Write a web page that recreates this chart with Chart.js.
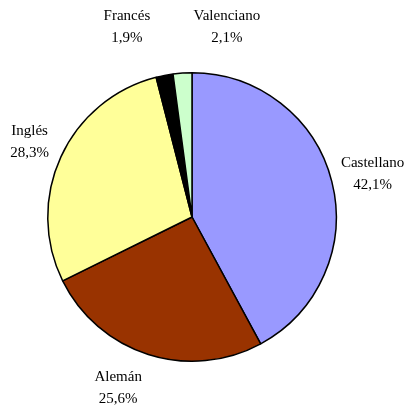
<!DOCTYPE html>
<html>
<head>
<meta charset="utf-8">
<script src="https://cdn.jsdelivr.net/npm/chart.js@4/dist/chart.umd.min.js"></script>
<style>
  html, body { margin: 0; padding: 0; background: #fff; }
  #wrap { width: 412px; height: 405px; position: relative; }
</style>
</head>
<body>
<div id="wrap"><canvas id="c" width="412" height="405"></canvas></div>
<script>
// Idiomas: reparto en porcentaje
const categories = ['Castellano', 'Alemán', 'Inglés', 'Francés', 'Valenciano'];
const shares = [42.1, 25.6, 28.3, 1.9, 2.1];
const sliceColors = ['#9999FF', '#993300', '#FFFF99', '#000000', '#CCFFCC'];
// extra nudges (px) for the labels, so the narrow slices don't collide
const labelNudge = [[2, 2], [-18, -5], [5, 2], [-30, -9], [47, -6]];

const fmt = v => v.toFixed(1).replace('.', ',') + '%';

const outsideLabels = {
  id: 'outsideLabels',
  afterDatasetsDraw(chart) {
    const ctx = chart.ctx;
    const meta = chart.getDatasetMeta(0);
    ctx.save();
    ctx.font = '15px "Liberation Serif", "Times New Roman", serif';
    ctx.fillStyle = '#000';
    ctx.textAlign = 'center';
    ctx.textBaseline = 'middle';
    meta.data.forEach((arc, i) => {
      const mid = (arc.startAngle + arc.endAngle) / 2;
      const r = arc.outerRadius + 40;
      const x = arc.x + Math.cos(mid) * r + labelNudge[i][0];
      const y = arc.y + Math.sin(mid) * r + labelNudge[i][1];
      ctx.fillText(categories[i], x, y - 11);
      ctx.fillText(fmt(shares[i]), x, y + 11);
    });
    ctx.restore();
  }
};

new Chart(document.getElementById('c'), {
  type: 'pie',
  data: {
    labels: categories,
    datasets: [{
      data: shares,
      backgroundColor: sliceColors,
      borderColor: '#000',
      borderWidth: 1.5
    }]
  },
  options: {
    responsive: false,
    animation: false,
    layout: { padding: { left: 47, right: 75, top: 72, bottom: 43 } },
    plugins: {
      legend: { display: false },
      tooltip: { enabled: false }
    }
  },
  plugins: [outsideLabels]
});
</script>
</body>
</html>
